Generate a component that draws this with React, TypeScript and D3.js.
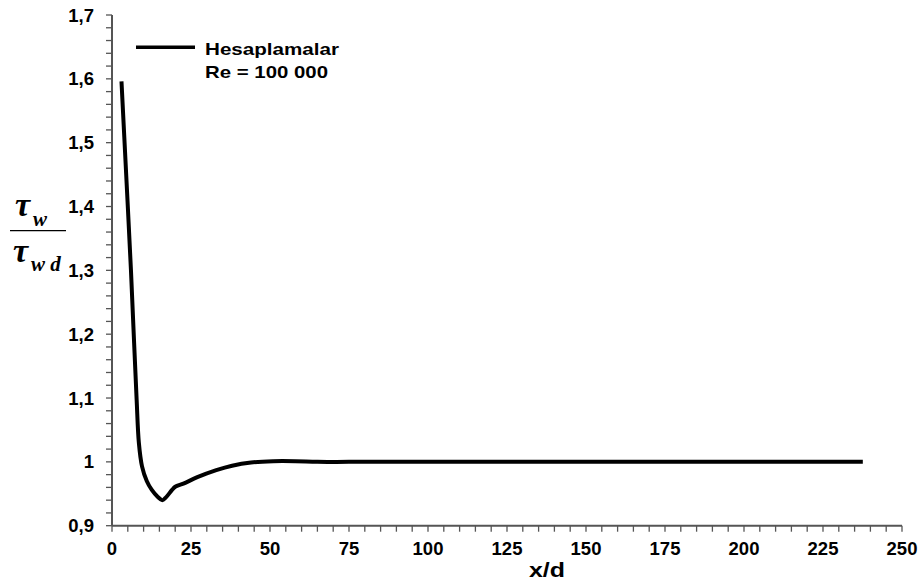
import React, { useEffect, useRef } from 'react';
import * as d3 from 'd3';

// curve
const xValues = [3, 4.5, 6, 7, 7.8, 8.5, 9.5, 11, 12.6, 14.5, 15.9, 17, 19, 20, 22.6, 27, 33, 38, 44, 51, 58, 65, 75, 100, 150, 200, 237.6];
const yValues = [1.596, 1.449, 1.3, 1.186, 1.097, 1.03, 0.993, 0.97, 0.956, 0.945, 0.94, 0.944, 0.956, 0.961, 0.966, 0.976, 0.987, 0.994, 0.999, 1.001, 1.001, 1.0, 1.0, 1.0, 1.0, 1.0, 1.0];

const xTicks = [0, 25, 50, 75, 100, 125, 150, 175, 200, 225, 250];
const yTicks = [0.9, 1.0, 1.1, 1.2, 1.3, 1.4, 1.5, 1.6, 1.7];
const legendLines = ['Hesaplamalar', 'Re = 100 000'];

const App = () => {
  const svgRef = useRef<SVGSVGElement>(null);

  useEffect(() => {
    const svg = d3.select(svgRef.current);
    svg.selectAll('*').remove();

    const left = 112, right = 902, top = 15, bottom = 525.7;
    const font = '"Liberation Sans", Arial, sans-serif';
    const axisColor = '#555';

    const x = d3.scaleLinear().domain([0, 250]).range([left, right]);
    const y = d3.scaleLinear().domain([0.9, 1.7]).range([bottom, top]);

    // minor + major ticks
    const xMinor = d3.range(0, 251, 5);
    const yMinor = d3.range(0, 41).map(i => 0.9 + i * 0.02);

    svg.append('g').selectAll('line')
      .data(xMinor)
      .enter().append('line')
      .attr('x1', d => x(d)).attr('x2', d => x(d))
      .attr('y1', bottom).attr('y2', bottom + 6)
      .attr('stroke', axisColor).attr('stroke-width', 1.3);

    svg.append('g').selectAll('line')
      .data(yMinor)
      .enter().append('line')
      .attr('x1', left - 6).attr('x2', left)
      .attr('y1', d => y(d)).attr('y2', d => y(d))
      .attr('stroke', axisColor).attr('stroke-width', 1.3);

    // axis lines
    svg.append('line')
      .attr('x1', left).attr('x2', left).attr('y1', top).attr('y2', bottom)
      .attr('stroke', axisColor).attr('stroke-width', 2);
    svg.append('line')
      .attr('x1', left).attr('x2', right).attr('y1', bottom).attr('y2', bottom)
      .attr('stroke', axisColor).attr('stroke-width', 2);

    // tick labels
    svg.append('g').selectAll('text')
      .data(xTicks)
      .enter().append('text')
      .attr('x', d => x(d)).attr('y', bottom + 29)
      .attr('text-anchor', 'middle')
      .style('font-family', font).style('font-weight', 'bold').style('font-size', '18.5px')
      .text(d => String(d));

    svg.append('g').selectAll('text')
      .data(yTicks)
      .enter().append('text')
      .attr('x', 94).attr('y', d => y(d) + 6.5)
      .attr('text-anchor', 'end')
      .style('font-family', font).style('font-weight', 'bold').style('font-size', '18.5px')
      .text(d => (Math.abs(d - 1) < 1e-9 ? '1' : d3.format('.1f')(d).replace('.', ',')));

    // x title
    svg.append('text')
      .attr('x', 529).attr('y', 577)
      .attr('textLength', 36).attr('lengthAdjust', 'spacingAndGlyphs')
      .style('font-family', font).style('font-weight', 'bold').style('font-size', '21px')
      .text('x/d');

    // y title: tau_w / tau_wd
    const serif = '"Liberation Serif", "Times New Roman", serif';
    const num = svg.append('text').attr('x', 15).attr('y', 216)
      .style('font-family', serif).style('font-style', 'italic').style('font-weight', 'bold');
    num.append('tspan').style('font-size', '34px').text('τ');
    num.append('tspan').attr('dx', 3).attr('dy', 10).style('font-size', '21px').text('w');
    svg.append('line')
      .attr('x1', 10).attr('x2', 66).attr('y1', 230.7).attr('y2', 230.7)
      .attr('stroke', '#000').attr('stroke-width', 1.3);
    const den = svg.append('text').attr('x', 13).attr('y', 262)
      .style('font-family', serif).style('font-style', 'italic').style('font-weight', 'bold');
    den.append('tspan').style('font-size', '34px').text('τ');
    den.append('tspan').attr('dx', 3).attr('dy', 9).style('font-size', '21px').text('w d');

    // curve
    const line = d3.line<number>()
      .x((d, i) => x(xValues[i]))
      .y(d => y(d))
      .curve(d3.curveCatmullRom.alpha(0.5));

    svg.append('path')
      .datum(yValues)
      .attr('fill', 'none')
      .attr('stroke', '#000')
      .attr('stroke-width', 4)
      .attr('stroke-linejoin', 'round')
      .attr('d', line);

    // legend
    svg.append('line')
      .attr('x1', 136).attr('x2', 195).attr('y1', 47.3).attr('y2', 47.3)
      .attr('stroke', '#000').attr('stroke-width', 3.5);
    const legendWidths = [134, 123];
    svg.append('g').selectAll('text')
      .data(legendLines)
      .enter().append('text')
      .attr('x', 205).attr('y', (d, i) => 55 + i * 23)
      .attr('textLength', (d, i) => legendWidths[i])
      .attr('lengthAdjust', 'spacingAndGlyphs')
      .style('font-family', font).style('font-weight', 'bold').style('font-size', '17px')
      .text(d => d);
  }, []);

  return (
    <svg ref={svgRef} width={922} height={586}
      style={{ position: 'absolute', left: 0, top: 0, background: '#fff' }} />
  );
};

export default App;
